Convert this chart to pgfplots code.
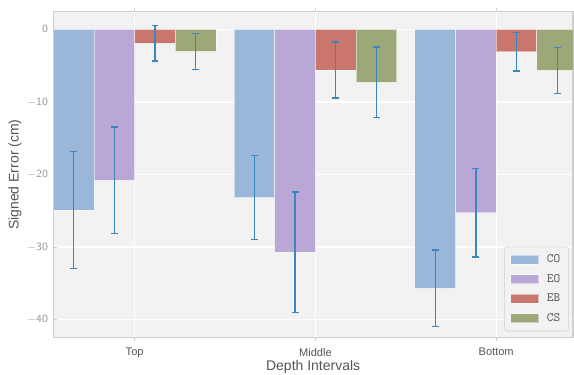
\documentclass[border=0pt]{standalone}
\usepackage{pgfplots}
\pgfplotsset{compat=1.18}
\usepackage{fontspec}
\setmainfont{Liberation Sans}
\definecolor{cCO}{HTML}{9AB7D9}
\definecolor{cEO}{HTML}{B9A7D6}
\definecolor{cEB}{HTML}{C9766C}
\definecolor{cCS}{HTML}{9CA878}
\definecolor{bg}{HTML}{F2F2F2}
\definecolor{frame}{HTML}{CFCFCF}
\definecolor{errc}{HTML}{3A87BF}
\definecolor{txt}{HTML}{555555}
\definecolor{ticktxt}{HTML}{999999}
\begin{document}
\begin{tikzpicture}
\path[use as bounding box] (-40pt,-27.5pt) rectangle (390.75pt,253.3pt);
\begin{axis}[
  scale only axis, width=390pt, height=244.5pt,
  xmin=-0.45, xmax=2.425, ymin=-42.48, ymax=2.43,
  axis background/.style={fill=bg},
  axis line style={frame, line width=1pt},
  grid=major, major grid style={white, line width=0.9pt},
  xtick={0,1,2}, xticklabels={Top,Middle,Bottom},
  ytick={-40,-30,-20,-10,0},
  tick style={frame, line width=0.6pt}, major tick length=2.5pt,
  xtick pos=both, ytick pos=left,
  tick label style={font=\fontsize{8.3}{10}\selectfont},
  xticklabel style={txt, yshift=-2pt},
  yticklabel style={ticktxt, xshift=-0.5pt},
  /pgf/number format/assume math mode=true,
  yticklabel={$\mathsf{\pgfmathprintnumber{\tick}}$},
  xlabel={Depth Intervals}, ylabel={Signed Error (cm)},
  label style={txt, font=\fontsize{10.5}{12}\selectfont},
  xlabel style={at={(axis description cs:0.5,-0.089)}, anchor=center},
  ylabel style={at={(axis description cs:-0.0737,0.5)}, anchor=center},
  ybar, bar width=0.225,
  legend style={at={(0.9918,0.0192)}, anchor=south east, draw=frame, fill=bg,
    rounded corners=2pt, text=txt,
    row sep=3.2pt, inner xsep=4.2pt, inner ysep=4pt, cells={anchor=west}},
  legend image code/.code={\fill[#1, sharp corners] (0pt,-3.4pt) rectangle (21pt,3.4pt);},
  error bars/y dir=both, error bars/y explicit,
  error bars/error bar style={errc, line width=1pt, opacity=1, draw opacity=1},
  error bars/error mark options={errc, line width=1pt, opacity=1, draw opacity=1, rotate=90, mark size=2.6pt},
]
\addplot[fill=cCO, draw=white, draw opacity=0.5, line width=0.6pt, bar shift=-0.3375]
  coordinates {(0,-24.9) +- (0,8.05) (1,-23.2) +- (0,5.8) (2,-35.7) +- (0,5.3)};
\addplot[fill=cEO, draw=white, draw opacity=0.5, line width=0.6pt, bar shift=-0.1125]
  coordinates {(0,-20.8) +- (0,7.35) (1,-30.7) +- (0,8.3) (2,-25.3) +- (0,6.1)};
\addplot[fill=cEB, draw=white, draw opacity=0.5, line width=0.6pt, bar shift=0.1125]
  coordinates {(0,-1.93) +- (0,2.43) (1,-5.6) +- (0,3.87) (2,-3.09) +- (0,2.65)};
\addplot[fill=cCS, draw=white, draw opacity=0.5, line width=0.6pt, bar shift=0.3375]
  coordinates {(0,-3.03) +- (0,2.46) (1,-7.3) +- (0,4.87) (2,-5.66) +- (0,3.2)};
\legend{\hspace{4pt}\ttfamily\fontsize{9.5}{10}\selectfont CO,
        \hspace{4pt}\ttfamily\fontsize{9.5}{10}\selectfont EO,
        \hspace{4pt}\ttfamily\fontsize{9.5}{10}\selectfont EB,
        \hspace{4pt}\ttfamily\fontsize{9.5}{10}\selectfont CS}
\end{axis}
\end{tikzpicture}
\end{document}
